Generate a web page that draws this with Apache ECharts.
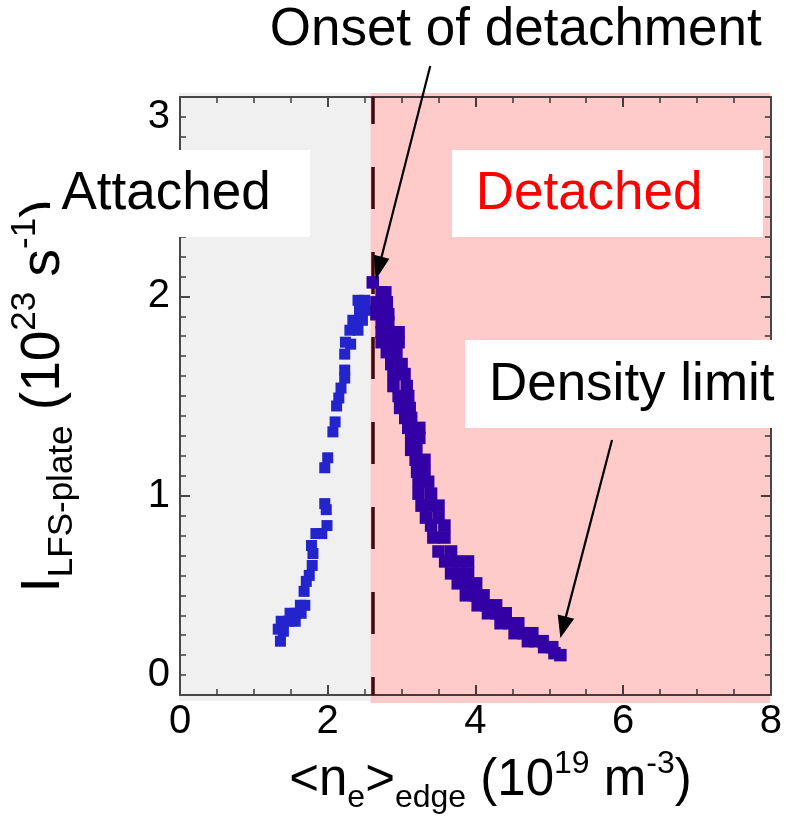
<!DOCTYPE html>
<html><head><meta charset="utf-8">
<script src="https://cdn.jsdelivr.net/npm/echarts@6/dist/echarts.min.js"></script>
<style>html,body{margin:0;padding:0;background:#fff}#c{width:785px;height:831px}</style>
</head><body><div id="c"></div>
<script>
// ---------- data ----------
const xTickValues = [0, 2, 4, 6, 8];
const yTickValues = [0, 1, 2, 3];
const onsetDensity = 2.61; // onset of detachment (10^19 m^-3)
const attachedRange = [0, 2.58];
const detachedRange = [2.58, 8];

// attached branch <n_e>_edge (10^19 m^-3), I_LFS-plate (10^23 s^-1)
const attachedPoints = [
  [1.36,0.27],[1.33,0.33],[1.40,0.32],[1.37,0.37],[1.47,0.37],[1.56,0.37],[1.49,0.41],[1.57,0.41],
  [1.64,0.41],[1.63,0.45],[1.69,0.45],[1.68,0.52],[1.71,0.57],[1.75,0.60],[1.79,0.65],[1.80,0.71],
  [1.78,0.75],[1.84,0.81],[1.92,0.81],[1.99,0.85],[1.98,0.93],[1.96,0.96],[1.96,1.14],[2.00,1.19],
  [2.07,1.32],[2.10,1.37],[2.12,1.45],[2.15,1.49],[2.18,1.54],[2.23,1.59],[2.23,1.63],[2.23,1.71],
  [2.24,1.77],[2.31,1.76],[2.30,1.83],[2.41,1.83],[2.34,1.88],[2.47,1.88],[2.43,1.93],[2.51,1.93],
  [2.41,1.98],[2.50,1.98]
];
// detached branch
const detachedPoints = [
  [2.61,2.07],[2.73,2.02],[2.78,2.02],[2.66,1.97],[2.80,1.97],[2.66,1.91],[2.82,1.91],[2.73,1.87],
  [2.82,1.87],[2.73,1.82],[2.85,1.82],[2.96,1.82],[2.73,1.77],[2.85,1.77],[2.96,1.77],[2.80,1.72],
  [2.93,1.72],[2.86,1.66],[3.00,1.66],[2.89,1.61],[3.04,1.61],[2.89,1.55],[3.07,1.55],[2.96,1.50],
  [3.09,1.50],[2.98,1.44],[3.11,1.44],[3.05,1.39],[3.13,1.39],[3.09,1.34],[3.24,1.34],[3.13,1.29],
  [3.24,1.29],[3.13,1.23],[3.20,1.23],[3.19,1.18],[3.31,1.18],[3.21,1.12],[3.31,1.12],[3.23,1.07],
  [3.36,1.07],[3.23,1.01],[3.40,1.01],[3.27,0.95],[3.39,0.95],[3.50,0.95],[3.33,0.89],[3.50,0.89],
  [3.40,0.85],[3.58,0.85],[3.43,0.79],[3.58,0.79],[3.50,0.72],[3.67,0.72],[3.59,0.67],[3.74,0.67],
  [3.90,0.67],[3.67,0.61],[3.79,0.61],[3.90,0.61],[3.76,0.56],[3.89,0.56],[4.01,0.56],[3.87,0.50],
  [3.99,0.50],[4.11,0.50],[4.03,0.45],[4.15,0.45],[4.28,0.45],[4.17,0.41],[4.29,0.41],[4.41,0.41],
  [4.34,0.36],[4.46,0.36],[4.58,0.36],[4.53,0.31],[4.65,0.31],[4.77,0.31],[4.71,0.27],[4.81,0.27],
  [4.91,0.27],[4.93,0.24],[5.04,0.24],[5.07,0.21],[5.15,0.20]
];

// ---------- styling ----------
const FONT = "'Liberation Sans', Arial, Helvetica, sans-serif";
const AXIS_COL = '#474747';
const BLUE = '#2424cc';
const PURPLE = '#3300a6';

const chart = echarts.init(document.getElementById('c'), null, {renderer: 'canvas'});

function tickCfg(split) {
  return {
    axisLine: {show: true, onZero: false, lineStyle: {color: AXIS_COL, width: 2}},
    axisTick: {show: true, inside: true, length: 10, lineStyle: {color: AXIS_COL, width: 2}},
    minorTick: {show: true, splitNumber: split, length: 6, lineStyle: {color: AXIS_COL, width: 1.6}},
    splitLine: {show: false},
    minorSplitLine: {show: false}
  };
}

const xName = '{m|<n}{sb|e}{m|>}{sb|edge}{m| (10}{sp|19}{m| m}{sp|-3}{m|)}';
const yName = '{m|I}{sb|LFS-plate}{m| (10}{sp|23}{m| s}{sp|-1}{m|)}';
function richSet(main, small, lh) {
  return {
    m: {fontSize: main, lineHeight: lh, verticalAlign: 'middle', fontFamily: FONT, color: '#000'},
    sb: {fontSize: small, lineHeight: lh, verticalAlign: 'bottom', fontFamily: FONT, color: '#000'},
    sp: {fontSize: small, lineHeight: lh, verticalAlign: 'top', fontFamily: FONT, color: '#000'}
  };
}

const scatterBase = {
  type: 'scatter', xAxisIndex: 0, yAxisIndex: 0,
  symbol: 'rect', emphasis: {disabled: true}
};

const option = {
  backgroundColor: '#ffffff',
  animation: false,
  grid: {left: 176, right: 14, top: 97, bottom: 136, containLabel: false},
  xAxis: [
    Object.assign({
      type: 'value', min: xTickValues[0], max: xTickValues[xTickValues.length - 1],
      interval: xTickValues[1] - xTickValues[0], position: 'bottom',
      axisLabel: {show: true, fontSize: 40, fontFamily: FONT, color: '#000', margin: 7},
      name: xName, nameLocation: 'middle', nameGap: 53,
      nameTextStyle: {rich: richSet(51, 32, 66), padding: [0, 0, 0, 30]}
    }, tickCfg(4)),
    Object.assign({
      type: 'value', min: xTickValues[0], max: xTickValues[xTickValues.length - 1],
      interval: xTickValues[1] - xTickValues[0], position: 'top',
      axisLabel: {show: false}
    }, tickCfg(4))
  ],
  yAxis: [
    Object.assign({
      type: 'value', min: yTickValues[0], max: yTickValues[yTickValues.length - 1],
      interval: yTickValues[1] - yTickValues[0], position: 'left',
      axisLabel: {show: true, fontSize: 40, fontFamily: FONT, color: '#000', margin: 10,
        verticalAlignMinLabel: 'bottom', verticalAlignMaxLabel: 'top'},
      name: yName, nameLocation: 'middle', nameGap: 100,
      nameTextStyle: {rich: richSet(55, 35, 72)}
    }, tickCfg(10)),
    Object.assign({
      type: 'value', min: yTickValues[0], max: yTickValues[yTickValues.length - 1],
      interval: yTickValues[1] - yTickValues[0], position: 'right',
      axisLabel: {show: false}
    }, tickCfg(10))
  ],
  series: [
    Object.assign({}, scatterBase, {
      data: attachedPoints, z: 3, symbolSize: 11, itemStyle: {color: BLUE, opacity: 1},
      markLine: {
        silent: true, symbol: ['none', 'none'], label: {show: false},
        lineStyle: {color: '#400a0a', width: 3.5, type: [42, 43], dashOffset: 24},
        data: [[{coord: [onsetDensity, yTickValues[0]]}, {coord: [onsetDensity, yTickValues[yTickValues.length - 1]]}]]
      }
    }),
    Object.assign({}, scatterBase, {data: detachedPoints, z: 55, symbolSize: 12.5, itemStyle: {color: PURPLE, opacity: 1}})
  ]
};
chart.setOption(option);

// ---------- annotations (anchored in data units, converted via the axes) ----------
const P = (x, y) => chart.convertToPixel({seriesIndex: 0}, [x, y]);
function rectBetween(a, b) {
  const p1 = P(a[0], a[1]), p2 = P(b[0], b[1]);
  return {x: Math.min(p1[0], p2[0]), y: Math.min(p1[1], p2[1]),
          width: Math.abs(p2[0] - p1[0]), height: Math.abs(p2[1] - p1[1])};
}
function arrow(from, to, headLen, headW) {
  const a = P(from[0], from[1]), b = P(to[0], to[1]);
  const dx = b[0] - a[0], dy = b[1] - a[1], L = Math.hypot(dx, dy);
  const ux = dx / L, uy = dy / L, px = -uy, py = ux;
  const bx = b[0] - ux * headLen, by = b[1] - uy * headLen;
  return [
    {type: 'line', z: 80, silent: true, shape: {x1: a[0], y1: a[1], x2: bx + ux * 2, y2: by + uy * 2},
      style: {stroke: '#000', lineWidth: 2.2}},
    {type: 'polygon', z: 80, silent: true,
      shape: {points: [[b[0], b[1]], [bx + px * headW / 2, by + py * headW / 2], [bx - px * headW / 2, by - py * headW / 2]]},
      style: {fill: '#000'}}
  ];
}
function label(text, pos, color, align) {
  const p = P(pos[0], pos[1]);
  return {type: 'text', z: 75, silent: true,
    style: {text: text, x: p[0], y: p[1], fill: color, font: '53px ' + FONT,
      textAlign: align, align: align, textVerticalAlign: 'middle', verticalAlign: 'middle'}};
}

const graphics = [
  Object.assign({type: 'rect', z: -10, silent: true, style: {fill: '#f0f0f0'}},
    {shape: rectBetween([attachedRange[0] - 0.015, 3.02], [attachedRange[1], -0.03])}),
  Object.assign({type: 'rect', z: 50, silent: true, style: {fill: '#ffcaca', blend: 'multiply'}},
    {shape: rectBetween([detachedRange[0], 3.02], [detachedRange[1] - 0.01, -0.04])}),
  {type: 'rect', z: 60, silent: true, style: {fill: '#ffffff'}, shape: rectBetween([-1.76, 2.734], [1.761, 2.298])},
  {type: 'rect', z: 60, silent: true, style: {fill: '#ffffff'}, shape: rectBetween([3.684, 2.734], [7.892, 2.298])},
  {type: 'rect', z: 60, silent: true, style: {fill: '#ffffff'}, shape: rectBetween([3.859, 1.781], [10.9, 1.339])},
  label('Attached', [-0.188, 2.513], '#000', 'center'),
  label('Detached', [5.539, 2.513], '#ff0000', 'center'),
  label('Density limit', [4.182, 1.555], '#000', 'left'),
  label('Onset of detachment', [4.545, 3.336], '#000', 'center')
].concat(arrow([3.388, 3.156], [2.649, 2.082], 24, 16))
 .concat(arrow([5.849, 1.279], [5.150, 0.286], 22, 17));

chart.setOption({graphic: {elements: graphics}});
</script>
</body></html>
